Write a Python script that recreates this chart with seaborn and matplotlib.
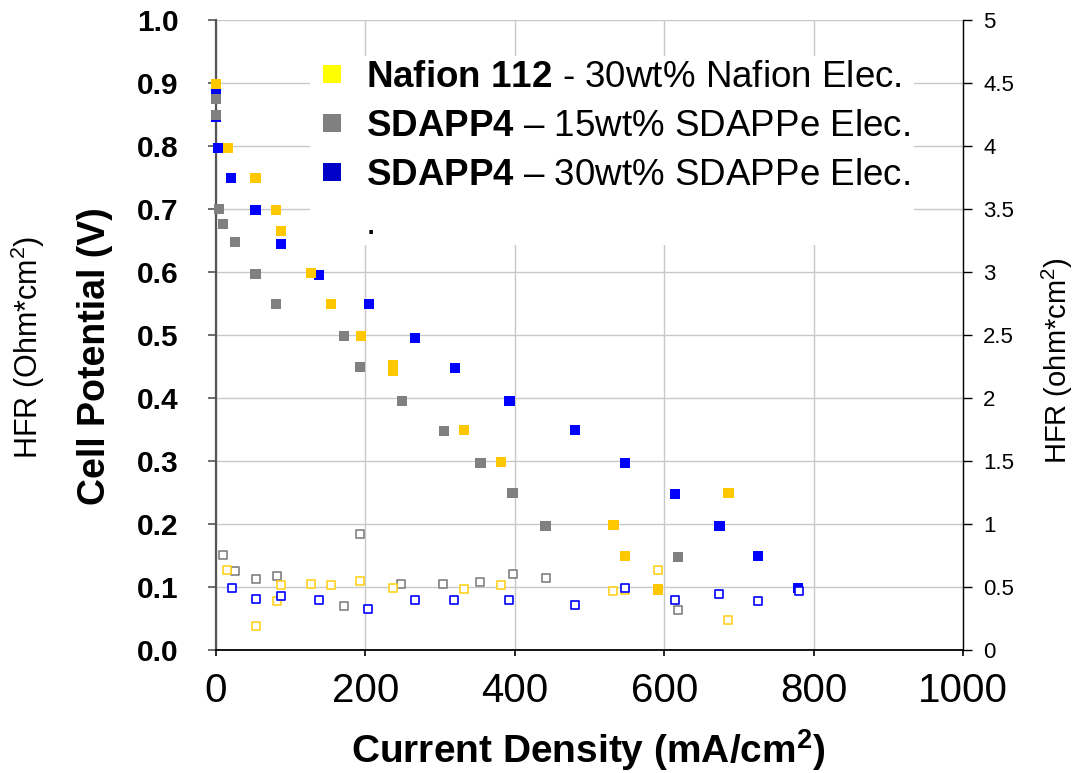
import numpy as np
import pandas as pd
import matplotlib
matplotlib.use("Agg")
import matplotlib.pyplot as plt
from matplotlib.lines import Line2D
from matplotlib.ticker import FixedLocator, FuncFormatter
import seaborn as sns

# ---------------- data ----------------
nafion_i = [0, 16, 53, 80, 87, 127, 154, 194, 237, 237, 332, 382, 532, 548, 592, 686]
nafion_v = [0.898, 0.797, 0.749, 0.699, 0.665, 0.598, 0.549, 0.499, 0.452, 0.443,
            0.349, 0.298, 0.199, 0.149, 0.096, 0.249]

sd15_i = [0, 0, 4, 9, 25, 53, 80, 171, 193, 249, 305, 354, 397, 441, 619]
sd15_v = [0.875, 0.849, 0.700, 0.676, 0.648, 0.597, 0.549, 0.498, 0.449, 0.395,
          0.348, 0.297, 0.249, 0.197, 0.148]

sd30_i = [0, 0, 3, 20, 53, 87, 138, 205, 266, 320, 393, 481, 548, 614, 674, 726, 779]
sd30_v = [0.889, 0.846, 0.797, 0.749, 0.698, 0.644, 0.595, 0.549, 0.495, 0.448,
          0.395, 0.349, 0.297, 0.248, 0.197, 0.149, 0.098]

nafion_hfr_i = [15, 54, 81, 87, 127, 154, 193, 237, 332, 381, 531, 548, 592, 686]
nafion_hfr = [0.632, 0.188, 0.386, 0.516, 0.524, 0.516, 0.545, 0.490, 0.484, 0.516,
              0.466, 0.476, 0.632, 0.238]

sd15_hfr_i = [10, 26, 54, 81, 171, 193, 248, 304, 354, 398, 442, 619]
sd15_hfr = [0.754, 0.624, 0.563, 0.585, 0.347, 0.921, 0.524, 0.524, 0.542, 0.606,
            0.574, 0.317]

sd30_hfr_i = [21, 54, 87, 138, 204, 266, 319, 392, 481, 548, 614, 674, 725, 780]
sd30_hfr = [0.494, 0.405, 0.426, 0.397, 0.328, 0.397, 0.397, 0.397, 0.357, 0.490,
            0.397, 0.447, 0.386, 0.466]

legend_labels = [r"$\mathbf{Nafion\ 112}$ - 30wt% Nafion Elec.",
                 r"$\mathbf{SDAPP4}$ – 15wt% SDAPPe Elec.",
                 r"$\mathbf{SDAPP4}$ – 30wt% SDAPPe Elec.",
                 "."]

x_ticks = [0, 200, 400, 600, 800, 1000]
y_ticks = [0.0, 0.1, 0.2, 0.3, 0.4, 0.5, 0.6, 0.7, 0.8, 0.9, 1.0]
y2_ticks = [0, 0.5, 1, 1.5, 2, 2.5, 3, 3.5, 4, 4.5, 5]

# ---------------- style ----------------
sns.set_style("white")
plt.rcParams["font.family"] = ["Liberation Sans", "DejaVu Sans"]
plt.rcParams["mathtext.fontset"] = "custom"
plt.rcParams["mathtext.rm"] = "Liberation Sans"
plt.rcParams["mathtext.bf"] = "Liberation Sans:bold"
plt.rcParams["mathtext.it"] = "Liberation Sans:italic"
plt.rcParams["text.color"] = "black"
plt.rcParams["axes.labelcolor"] = "black"
plt.rcParams["xtick.color"] = "black"
plt.rcParams["ytick.color"] = "black"

C_YEL = "#FFC800"
C_YEL_H = "#FFD21E"
C_GRY = "#808080"
C_BLU = "#0000FF"

fig = plt.figure(figsize=(10.79, 7.73), dpi=100)
ax = fig.add_axes([216 / 1079, 1 - 650 / 773, (963 - 216) / 1079, (650 - 20) / 773])

df_n = pd.DataFrame({"i": nafion_i, "v": nafion_v})
df_g = pd.DataFrame({"i": sd15_i, "v": sd15_v})
df_b = pd.DataFrame({"i": sd30_i, "v": sd30_v})

fs = 54
for df, c in [(df_b, C_BLU), (df_g, C_GRY), (df_n, C_YEL)]:
    sns.scatterplot(data=df, x="i", y="v", ax=ax, marker="s", s=fs, color=c,
                    edgecolor="none", linewidth=0, zorder=3, clip_on=False)

ax.set_xlim(0, 1000)
ax.set_ylim(0, 1.0)
ax.xaxis.set_major_locator(FixedLocator(x_ticks))
ax.yaxis.set_major_locator(FixedLocator(y_ticks))
ax.yaxis.set_major_formatter(FuncFormatter(lambda v, p: f"{v:.1f}"))
ax.grid(True, color="#c8c8c8", linewidth=1.0)
ax.set_axisbelow(True)

for side in ["top", "right"]:
    ax.spines[side].set_visible(False)
ax.spines["left"].set_color("#555555")
ax.spines["left"].set_linewidth(1.6)
ax.spines["bottom"].set_color("black")
ax.spines["bottom"].set_linewidth(1.3)

ax.tick_params(axis="y", which="major", direction="out", length=6, width=1.2,
               color="#555555", labelcolor="black", labelsize=21.5, pad=21, left=True)
ax.tick_params(axis="x", which="major", direction="out", length=4.5, width=1.2,
               color="black", labelcolor="black", labelsize=29, pad=11, bottom=True)
for lab in ax.get_yticklabels():
    lab.set_fontweight("bold")

ax.set_xlabel("Current Density (mA/cm$^{\\mathbf{2}}$)", fontsize=28, fontweight="bold")
ax.xaxis.label.set_va("center")
ax.xaxis.set_label_coords(0.498, -0.159)
ax.set_ylabel("Cell Potential (V)", fontsize=27, fontweight="bold")
ax.yaxis.label.set_va("center")
ax.yaxis.set_label_coords(-0.162, 0.467)

fig.text(28 / 1079, 1 - 347 / 773, "HFR (Ohm*cm$^{2}$)", rotation=90,
         ha="center", va="center", fontsize=22)

# ---------------- HFR (right axis) ----------------
ax2 = ax.twinx()
df_nh = pd.DataFrame({"i": nafion_hfr_i, "h": nafion_hfr})
df_gh = pd.DataFrame({"i": sd15_hfr_i, "h": sd15_hfr})
df_bh = pd.DataFrame({"i": sd30_hfr_i, "h": sd30_hfr})
hs = 40
for df, c in [(df_gh, C_GRY), (df_nh, C_YEL_H), (df_bh, C_BLU)]:
    sns.scatterplot(data=df, x="i", y="h", ax=ax2, marker="s", s=hs, color=c,
                    facecolor="white", edgecolor=c, linewidth=1.2, zorder=3)
ax2.set_ylim(0, 5)
ax2.set_xlim(0, 1000)
ax2.yaxis.set_major_locator(FixedLocator(y2_ticks))
ax2.yaxis.set_major_formatter(FuncFormatter(lambda v, p: f"{v:g}"))
ax2.grid(False)
for side in ["top", "left", "bottom"]:
    ax2.spines[side].set_visible(False)
ax2.spines["right"].set_visible(True)
ax2.spines["right"].set_color("black")
ax2.spines["right"].set_linewidth(1.0)
ax2.tick_params(axis="y", which="major", direction="out", length=6.5, width=1.0,
                color="black", labelcolor="black", labelsize=16, pad=8, right=True)
ax2.set_ylabel("HFR (ohm*cm$^{2}$)", fontsize=21)
ax2.yaxis.label.set_va("center")
ax2.yaxis.set_label_coords(1.126, 0.46)
ax2.set_xlabel("")

# ---------------- legend ----------------
handles = [
    Line2D([], [], marker="s", ls="none", markersize=13, color="#FFFF00", markeredgewidth=0),
    Line2D([], [], marker="s", ls="none", markersize=13, color=C_GRY, markeredgewidth=0),
    Line2D([], [], marker="s", ls="none", markersize=13, color="#0000C8", markeredgewidth=0),
    Line2D([], [], marker="s", ls="none", markersize=13, color="white", alpha=0),
]
leg = ax2.legend(handles, legend_labels, loc="upper left",
                 bbox_to_anchor=(310 / 1079, 1 - 56 / 773), bbox_transform=fig.transFigure,
                 fontsize=26.5, frameon=True, facecolor="white", edgecolor="none",
                 framealpha=1, fancybox=False, borderpad=0.1, borderaxespad=0,
                 handlelength=1.0, handletextpad=0.42, labelspacing=0.38)
leg.set_zorder(10)

fig.savefig("out.png", dpi=100)
